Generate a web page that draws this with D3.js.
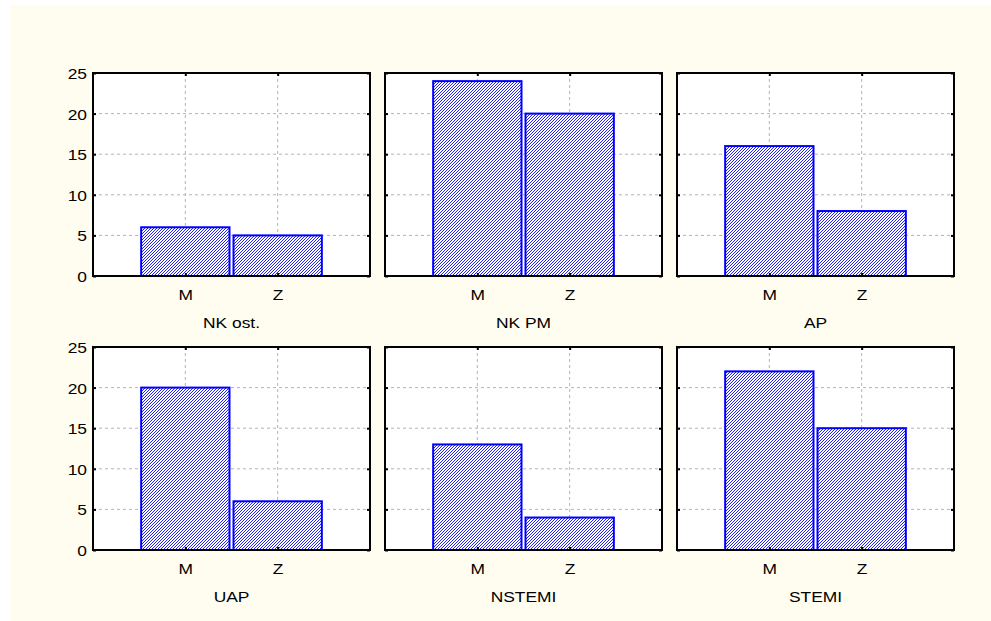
<!DOCTYPE html>
<html><head><meta charset="utf-8">
<script src="https://cdn.jsdelivr.net/npm/d3@7"></script>
<style>body{margin:0;background:#fff}svg{display:block}</style>
</head><body>
<script>
const panels = ["NK ost.", "NK PM", "AP", "UAP", "NSTEMI", "STEMI"];
const categories = ["M", "Z"];
const valuesM = [6, 24, 16, 20, 13, 22];
const valuesZ = [5, 20, 8, 6, 4, 15];
const yTicks = [0, 5, 10, 15, 20, 25];

const W = 991, H = 621;
const SX = 1.16;
const svg = d3.select("body").append("svg").attr("width", W).attr("height", H);
svg.append("rect").attr("x", 10).attr("y", 5).attr("width", W - 10).attr("height", H - 5).attr("fill", "#fffdf0");

const defs = svg.append("defs");
const pat = defs.append("pattern").attr("id", "hatch").attr("patternUnits", "userSpaceOnUse")
  .attr("width", 3).attr("height", 3);
pat.append("rect").attr("width", 3).attr("height", 3).attr("fill", "#fff");
[[0,2],[1,1],[2,0]].forEach(([x,y]) => pat.append("rect").attr("x", x).attr("y", y).attr("width", 1).attr("height", 1).attr("fill", "#2020ff"));

const colX = [93, 385, 677], rowY = [73, 347];
const pw = 277, ph = 203;
const font = "Liberation Sans, Arial, sans-serif";

panels.forEach((name, i) => {
  const col = i % 3, row = Math.floor(i / 3);
  const g = svg.append("g").attr("transform", `translate(${colX[col]},${rowY[row]})`);
  const x = d3.scalePoint().domain(categories).range([0, pw]).padding(1);
  const band = x.step();
  const y = d3.scaleLinear().domain([0, 25]).range([ph, 0]);
  g.append("rect").attr("width", pw).attr("height", ph).attr("fill", "#fff");
  g.selectAll(".hg").data(yTicks.filter(t => t > 0 && t < 25)).join("line")
    .attr("x1", 0).attr("x2", pw).attr("y1", d => y(d)).attr("y2", d => y(d))
    .attr("stroke", "#b4b4b4").attr("stroke-dasharray", "3,3").attr("stroke-width", 1);
  g.selectAll(".vg").data(categories).join("line")
    .attr("x1", d => x(d)).attr("x2", d => x(d)).attr("y1", 0).attr("y2", ph)
    .attr("stroke", "#b4b4b4").attr("stroke-dasharray", "3,3").attr("stroke-width", 1);
  const vals = [valuesM[i], valuesZ[i]];
  const bw = band - 4;
  g.selectAll(".bar").data(categories).join("rect")
    .attr("x", d => x(d) - bw / 2).attr("width", bw)
    .attr("y", (d, j) => y(vals[j])).attr("height", (d, j) => ph - y(vals[j]))
    .attr("fill", "url(#hatch)").attr("stroke", "#0000ff").attr("stroke-width", 2);
  const yl = d3.axisLeft(y).tickValues(yTicks).tickSize(-3).tickFormat(col === 0 ? d3.format("d") : "");
  const yr = d3.axisRight(y).tickValues(yTicks).tickSize(-3).tickFormat("");
  const xb = d3.axisBottom(x).tickSize(-3).tickFormat(d => d);
  const xt = d3.axisTop(x).tickSize(-3).tickFormat("");
  const ax = [
    g.append("g").call(yl),
    g.append("g").attr("transform", `translate(${pw},0)`).call(yr),
    g.append("g").attr("transform", `translate(0,${ph})`).call(xb),
    g.append("g").call(xt)
  ];
  ax.forEach(a => {
    a.select(".domain").remove();
    a.selectAll(".tick line").attr("stroke", "#000").attr("stroke-width", 2);
    a.selectAll("text").attr("font-family", font).attr("font-size", 15).attr("fill", "#000")
      .attr("transform", `scale(${SX},1)`);
  });
  ax[0].selectAll("text").attr("x", -6 / SX).attr("dy", "0.36em");
  ax[2].selectAll("text").attr("y", 13);
  g.append("rect").attr("width", pw).attr("height", ph).attr("fill", "none").attr("stroke", "#000").attr("stroke-width", 2);
  g.append("text").attr("transform", `translate(${pw / 2},${ph + 52}) scale(${SX},1)`).attr("text-anchor", "middle")
    .attr("font-family", font).attr("font-size", 15).text(name);
});
</script>
</body></html>
